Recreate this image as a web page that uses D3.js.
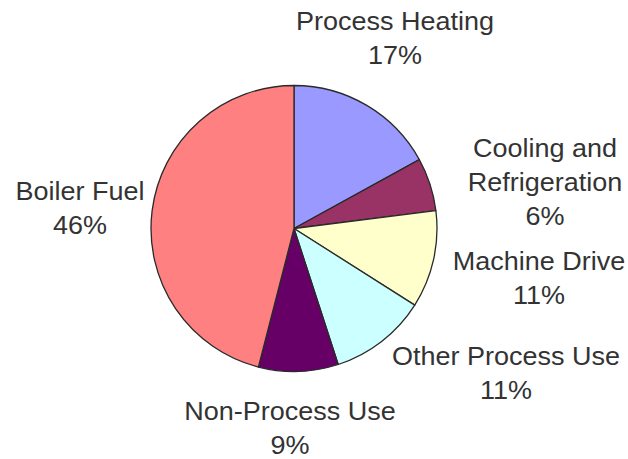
<!DOCTYPE html>
<html>
<head>
<meta charset="utf-8">
<script src="https://cdn.jsdelivr.net/npm/d3@7/dist/d3.min.js"></script>
<style>
  html, body { margin: 0; padding: 0; background: #fff; }
  svg { display: block; }
  text { font-family: "Liberation Sans", Arial, sans-serif; fill: #333; }
</style>
</head>
<body>
<svg id="chart" width="628" height="459"></svg>
<script>
// Data
const categories = ["Process Heating", "Cooling and Refrigeration", "Machine Drive", "Other Process Use", "Non-Process Use", "Boiler Fuel"];
const values = [17, 6, 11, 11, 9, 46];
const colors = ["#9999FF", "#993366", "#FFFFCC", "#CCFFFF", "#660066", "#FF8080"];
// Label line breaks (text only)
const labelLines = [
  ["Process Heating"],
  ["Cooling and", "Refrigeration"],
  ["Machine Drive"],
  ["Other Process Use"],
  ["Non-Process Use"],
  ["Boiler Fuel"]
];

// Layout (not data)
const W = 628, H = 459;
const cx = 294, cy = 228.5, R = 143;
const labelPos = [ // center x, first baseline y
  [395, 30],
  [545, 157],
  [539, 270],
  [506, 365],
  [290, 420],
  [80, 200]
];
const lineH = 34;
const fontSize = 25;

const svg = d3.select("#chart");
const g = svg.append("g").attr("transform", `translate(${cx},${cy})`);

const pie = d3.pie().sort(null).value(d => d.v);
const arc = d3.arc().innerRadius(0).outerRadius(R);
const data = categories.map((c, i) => ({ c, v: values[i], i }));

g.selectAll("path.slice")
  .data(pie(data))
  .join("path")
  .attr("class", "slice")
  .attr("d", arc)
  .attr("fill", d => colors[d.data.i])
  .attr("stroke", "#2a2a2a")
  .attr("stroke-width", 1.3)
  .attr("stroke-linejoin", "round");

const total = d3.sum(values);
const labels = svg.selectAll("g.label")
  .data(data)
  .join("g")
  .attr("class", "label")
  .attr("transform", d => `translate(${labelPos[d.i][0]},${labelPos[d.i][1]}) scale(1.08,1)`);

labels.each(function(d) {
  const sel = d3.select(this);
  const lines = labelLines[d.i].concat([Math.round(d.v / total * 100) + "%"]);
  lines.forEach((t, k) => {
    sel.append("text")
      .attr("x", 0)
      .attr("y", k * lineH)
      .attr("text-anchor", "middle")
      .style("font-size", fontSize + "px")
      .text(t);
  });
});
</script>
</body>
</html>
